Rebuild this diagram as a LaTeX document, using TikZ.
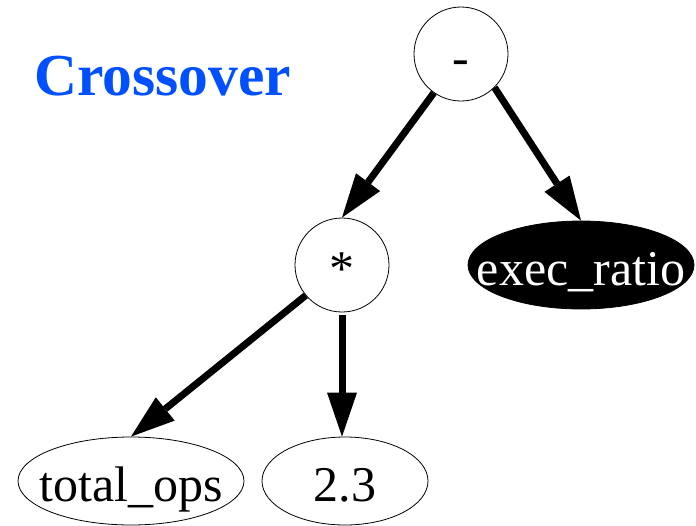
\documentclass[tikz,border=0pt]{standalone}
\usepackage{fontspec}
\setmainfont{Liberation Serif}
\usetikzlibrary{arrows.meta,shapes.geometric}
\definecolor{xblue}{RGB}{0,80,255}
\newcommand{\zw}[1]{\makebox[0pt][c]{#1}}
\tikzset{
  opnode/.style={circle,draw,line width=0.8pt,minimum size=94pt,inner sep=0pt,
    font=\fontsize{50pt}{50pt}\selectfont,text height=40pt,text depth=0pt},
  leaf/.style={ellipse,draw,line width=0.8pt,inner sep=0pt,minimum height=88pt,
    font=\fontsize{50pt}{50pt}\selectfont,text height=40pt,text depth=0pt},
  arr/.style={line width=7pt,-{Triangle[length=44pt,width=30pt,line width=0pt]}},
}
\begin{document}
\begin{tikzpicture}[x=1pt,y=-1pt]
\useasboundingbox (0,0) rectangle (696,525);
\node[anchor=base west,text=xblue,font=\fontsize{59.5pt}{59.5pt}\selectfont\bfseries,inner sep=0pt] (title) at (34,95) {Crossover};
\node[opnode] (minus) at (461,54) {-};
\node[opnode] (star) at (342,265) {*};
\node[leaf,fill=black,text=white,minimum width=226pt] (ex) at (581,265) {\zw{exec\_ratio}};
\node[leaf,minimum width=226pt] (tot) at (131,481) {\zw{total\_ops}};
\node[leaf,minimum width=166pt] (num) at (345,481) {\zw{2.3}};
\draw[arr] (minus.-45) -- (ex.north);
\draw[arr] (minus.-125) -- (star.north);
\draw[arr] (star.-140) -- (tot.north);
\draw[arr] ([yshift=-3pt]star.south) -- (star.south |- num.north);
\end{tikzpicture}
\end{document}
